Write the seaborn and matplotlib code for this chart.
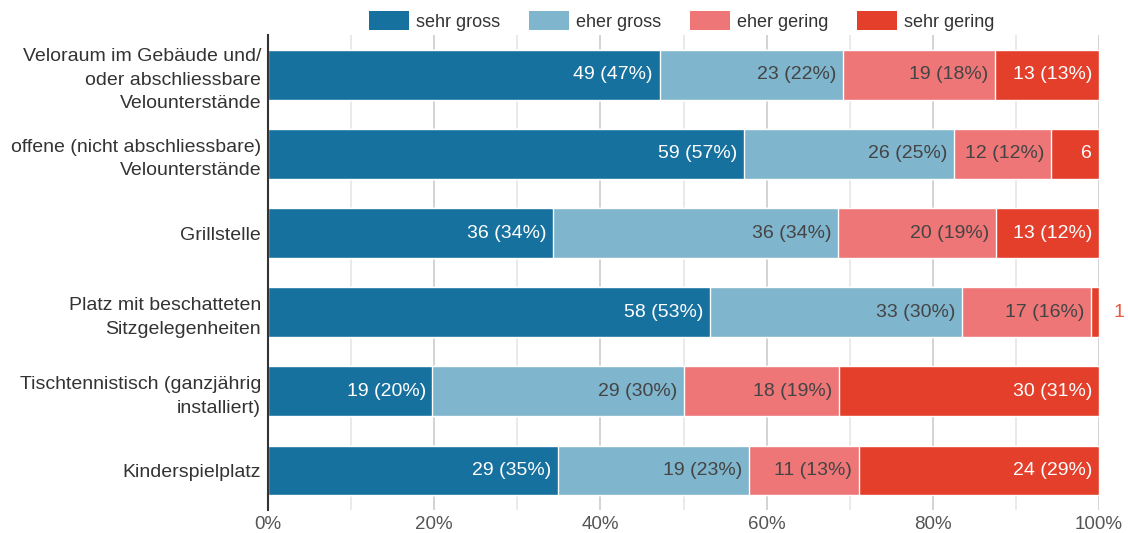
import numpy as np
import pandas as pd
import matplotlib
matplotlib.use("Agg")
import matplotlib.pyplot as plt
import seaborn as sns
from matplotlib.patches import Patch

# Kategorien (y-Achse) und Antworten
kategorien = [
    "Veloraum im Gebäude und/\noder abschliessbare\nVelounterstände",
    "offene (nicht abschliessbare)\nVelounterstände",
    "Grillstelle",
    "Platz mit beschatteten\nSitzgelegenheiten",
    "Tischtennistisch (ganzjährig\ninstalliert)",
    "Kinderspielplatz",
]
antworten = ["sehr gross", "eher gross", "eher gering", "sehr gering"]

# Anzahl Nennungen pro Antwort
sehr_gross = [49, 59, 36, 58, 19, 29]
eher_gross = [23, 26, 36, 33, 29, 19]
eher_gering = [19, 12, 20, 17, 18, 11]
sehr_gering = [13, 6, 13, 1, 30, 24]

farben = ["#17719e", "#7fb5cd", "#ee7677", "#e33f2b"]
schrift_farben = ["white", "#444444", "#444444", "white"]

sns.set_theme(style="white")
plt.rcParams["font.family"] = ["Liberation Sans", "DejaVu Sans"]

counts = np.array([sehr_gross, eher_gross, eher_gering, sehr_gering], dtype=float)
totals = counts.sum(axis=0)
anteile = counts / totals
kumuliert = np.cumsum(anteile, axis=0)

df = pd.DataFrame({"kategorie": kategorien})
for i, a in enumerate(antworten):
    df[a] = kumuliert[i]

fig, ax = plt.subplots(figsize=(11.28, 5.33), dpi=100)
fig.subplots_adjust(left=0.2376, right=0.9743, top=0.934, bottom=0.043)

# gestapelte Balken: kumulierte Werte von hinten nach vorne zeichnen
for i in reversed(range(len(antworten))):
    sns.barplot(data=df, x=antworten[i], y="kategorie", color=farben[i],
                saturation=1, width=0.63, edgecolor="white", linewidth=1,
                ax=ax, zorder=2)

# Beschriftungen
fs = 14
for j in range(len(kategorien)):
    for i in range(len(antworten)):
        n = int(counts[i, j])
        p = anteile[i, j]
        ende = kumuliert[i, j]
        pct = int(np.floor(p * 100 + 0.5))
        if p >= 0.10:
            ax.text(ende - 0.008, j, f"{n} ({pct}%)", ha="right", va="center",
                    color=schrift_farben[i], fontsize=fs, zorder=5)
        elif p >= 0.03:
            ax.text(ende - 0.008, j, f"{n}", ha="right", va="center",
                    color=schrift_farben[i], fontsize=fs, zorder=5)
        else:
            ax.text(1.017, j, f"{n}", ha="left", va="center",
                    color="#e8593f", fontsize=fs, zorder=5, clip_on=False)

ax.set_xlim(0, 1)
ax.set_ylim(5.5, -0.5)
ax.set_xticks(np.arange(0, 1.01, 0.2))
ax.set_xticklabels([f"{int(v)}%" for v in np.arange(0, 101, 20)])
ax.set_xticks(np.arange(0.1, 1.0, 0.2), minor=True)
ax.grid(axis="x", which="major", color="#cccccc", linewidth=1.2, zorder=0)
ax.grid(axis="x", which="minor", color="#e6e6e6", linewidth=1.2, zorder=0)
ax.set_axisbelow(True)
ax.set_xlabel("")
ax.set_ylabel("")
ax.tick_params(axis="x", which="both", length=0, pad=4, labelsize=13.5, labelcolor="#555555")
ax.tick_params(axis="y", length=0, pad=5, labelsize=14, labelcolor="#333333")
for lbl in ax.get_yticklabels():
    lbl.set_multialignment("right")
    lbl.set_linespacing(1.5)

for s in ["top", "right", "bottom"]:
    ax.spines[s].set_visible(False)
ax.spines["left"].set_color("#333333")
ax.spines["left"].set_linewidth(1.5)
ax.spines["left"].set_zorder(6)

handles = [Patch(facecolor=c, edgecolor="none") for c in farben]
ax.legend(handles, antworten, loc="center", bbox_to_anchor=(0.498, 1.03),
          ncol=4, frameon=False, fontsize=13, handlelength=2.2,
          handleheight=1.2, handletextpad=0.4, columnspacing=1.6,
          labelcolor="#333333")

plt.savefig("out.png", dpi=100)
